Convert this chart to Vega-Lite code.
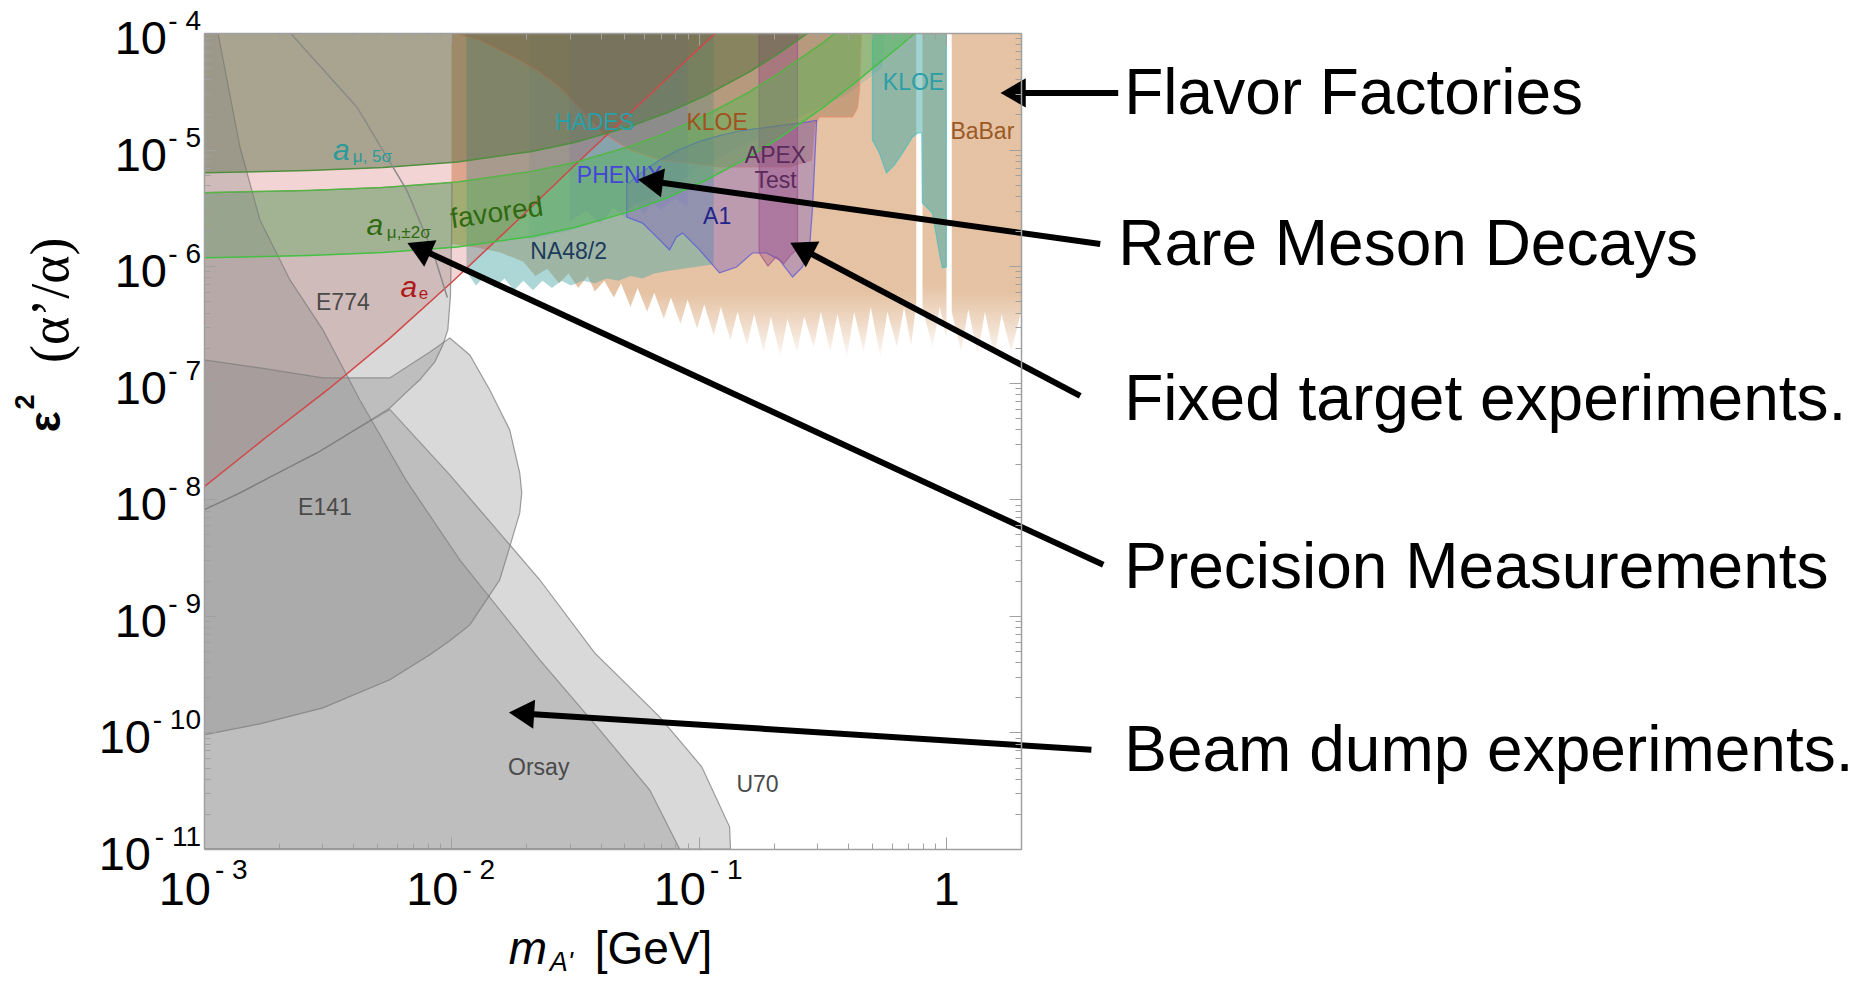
{
"$schema":"https://vega.github.io/schema/vega-lite/v6.json",
"width":817,"height":816,
"autosize":{"type":"none"},
"padding":{"left":204,"top":33,"right":845,"bottom":132},
"background":"white",
"config":{"view":{"stroke":null},"font":"Liberation Sans","text":{"font":"Liberation Sans"}},
"resolve":{"scale":{"color":"independent","fill":"independent","stroke":"independent","fillOpacity":"independent"},"axis":{"x":"independent","y":"independent"}},
"datasets":{
"reg":[
{"r":"babar","g":"b1","m":0.01,"hi":1e-4,"lo":1.552e-6},{"r":"babar","g":"b1","m":0.01254,"hi":1e-4,"lo":1.445e-6},{"r":"babar","g":"b1","m":0.01565,"hi":1e-4,"lo":1.315e-6},{"r":"babar","g":"b1","m":0.01953,"hi":1e-4,"lo":1.09e-6},{"r":"babar","g":"b1","m":0.02182,"hi":1e-4,"lo":8.23e-7},{"r":"babar","g":"b1","m":0.02436,"hi":1e-4,"lo":9.48e-7},{"r":"babar","g":"b1","m":0.02722,"hi":1e-4,"lo":7.14e-7},{"r":"babar","g":"b1","m":0.02973,"hi":1e-4,"lo":8.63e-7},{"r":"babar","g":"b1","m":0.03249,"hi":1e-4,"lo":6.5e-7},{"r":"babar","g":"b1","m":0.0355,"hi":1e-4,"lo":8.23e-7},{"r":"babar","g":"b1","m":0.03794,"hi":1e-4,"lo":6.06e-7},{"r":"babar","g":"b1","m":0.04145,"hi":1e-4,"lo":7.49e-7},{"r":"babar","g":"b1","m":0.04529,"hi":1e-4,"lo":5.39e-7},{"r":"babar","g":"b1","m":0.04838,"hi":1e-4,"lo":7.14e-7},{"r":"babar","g":"b1","m":0.05286,"hi":1e-4,"lo":4.47e-7},{"r":"babar","g":"b1","m":0.05649,"hi":1e-4,"lo":6.5e-7},{"r":"babar","g":"b1","m":0.06172,"hi":1e-4,"lo":4.07e-7},{"r":"babar","g":"b1","m":0.06596,"hi":1e-4,"lo":5.92e-7},{"r":"babar","g":"b1","m":0.07207,"hi":1e-4,"lo":3.53e-7},{"r":"babar","g":"b1","m":0.07701,"hi":1e-4,"lo":5.39e-7},{"r":"babar","g":"b1","m":0.08416,"hi":1e-4,"lo":3.21e-7},{"r":"babar","g":"b1","m":0.08993,"hi":1e-4,"lo":5.14e-7},{"r":"babar","g":"b1","m":0.09826,"hi":1e-4,"lo":2.92e-7},{"r":"babar","g":"b1","m":0.105,"hi":1e-4,"lo":4.68e-7},{"r":"babar","g":"b1","m":0.1147,"hi":1e-4,"lo":2.54e-7},{"r":"babar","g":"b1","m":0.1226,"hi":1e-4,"lo":4.47e-7},{"r":"babar","g":"b1","m":0.1339,"hi":1e-4,"lo":2.31e-7},{"r":"babar","g":"b1","m":0.1431,"hi":1e-4,"lo":4.07e-7},{"r":"babar","g":"b1","m":0.1563,"hi":1e-4,"lo":2.1e-7},{"r":"babar","g":"b1","m":0.1671,"hi":1e-4,"lo":3.88e-7},{"r":"babar","g":"b1","m":0.1826,"hi":1e-4,"lo":1.83e-7},{"r":"babar","g":"b1","m":0.1951,"hi":1e-4,"lo":3.7e-7},{"r":"babar","g":"b1","m":0.2132,"hi":1e-4,"lo":1.66e-7},{"r":"babar","g":"b1","m":0.2278,"hi":1e-4,"lo":3.53e-7},{"r":"babar","g":"b1","m":0.2489,"hi":1e-4,"lo":1.83e-7},{"r":"babar","g":"b1","m":0.266,"hi":1e-4,"lo":3.7e-7},{"r":"babar","g":"b1","m":0.2906,"hi":1e-4,"lo":2.01e-7},{"r":"babar","g":"b1","m":0.3106,"hi":1e-4,"lo":4.07e-7},{"r":"babar","g":"b1","m":0.3393,"hi":1e-4,"lo":1.83e-7},{"r":"babar","g":"b1","m":0.3626,"hi":1e-4,"lo":3.88e-7},{"r":"babar","g":"b1","m":0.3962,"hi":1e-4,"lo":1.66e-7},{"r":"babar","g":"b1","m":0.4234,"hi":1e-4,"lo":4.07e-7},{"r":"babar","g":"b1","m":0.4625,"hi":1e-4,"lo":1.83e-7},{"r":"babar","g":"b1","m":0.4943,"hi":1e-4,"lo":4.47e-7},{"r":"babar","g":"b1","m":0.5401,"hi":1e-4,"lo":1.66e-7},{"r":"babar","g":"b1","m":0.5771,"hi":1e-4,"lo":4.07e-7},{"r":"babar","g":"b1","m":0.6306,"hi":1e-4,"lo":2.01e-7},{"r":"babar","g":"b1","m":0.6739,"hi":1e-4,"lo":4.47e-7},{"r":"babar","g":"b1","m":0.7201,"hi":1e-4,"lo":2.1e-7},{"r":"babar","g":"b1","m":0.755,"hi":1e-4,"lo":4.8e-7},
{"r":"babar","g":"b2","m":0.8,"hi":1e-4,"lo":4.26e-7},{"r":"babar","g":"b2","m":0.8786,"hi":1e-4,"lo":2.01e-7},{"r":"babar","g":"b2","m":0.9389,"hi":1e-4,"lo":4.47e-7},{"r":"babar","g":"b2","m":1.0,"hi":1e-4,"lo":2.37e-7},
{"r":"babar","g":"b3","m":1.05,"hi":1e-4,"lo":4.07e-7},{"r":"babar","g":"b3","m":1.146,"hi":1e-4,"lo":1.83e-7},{"r":"babar","g":"b3","m":1.225,"hi":1e-4,"lo":4.26e-7},{"r":"babar","g":"b3","m":1.338,"hi":1e-4,"lo":1.74e-7},{"r":"babar","g":"b3","m":1.43,"hi":1e-4,"lo":4.07e-7},{"r":"babar","g":"b3","m":1.562,"hi":1e-4,"lo":1.66e-7},{"r":"babar","g":"b3","m":1.67,"hi":1e-4,"lo":3.88e-7},{"r":"babar","g":"b3","m":1.824,"hi":1e-4,"lo":1.83e-7},{"r":"babar","g":"b3","m":2.0,"hi":1e-4,"lo":4.07e-7},
{"r":"na48","m":0.01149,"hi":1e-4,"lo":9.04e-7},{"r":"na48","m":0.01254,"hi":1e-4,"lo":6.82e-7},{"r":"na48","m":0.0137,"hi":1e-4,"lo":8.23e-7},{"r":"na48","m":0.01497,"hi":1e-4,"lo":6.5e-7},{"r":"na48","m":0.01636,"hi":1e-4,"lo":7.85e-7},{"r":"na48","m":0.01788,"hi":1e-4,"lo":6.21e-7},{"r":"na48","m":0.01953,"hi":1e-4,"lo":7.49e-7},{"r":"na48","m":0.02134,"hi":1e-4,"lo":6.21e-7},{"r":"na48","m":0.02331,"hi":1e-4,"lo":7.49e-7},{"r":"na48","m":0.02547,"hi":1e-4,"lo":6.5e-7},{"r":"na48","m":0.02783,"hi":1e-4,"lo":7.49e-7},{"r":"na48","m":0.0304,"hi":1e-4,"lo":6.82e-7},{"r":"na48","m":0.03396,"hi":1e-4,"lo":7.49e-7},{"r":"na48","m":0.03794,"hi":1e-4,"lo":7.14e-7},{"r":"na48","m":0.04237,"hi":1e-4,"lo":7.85e-7},{"r":"na48","m":0.04733,"hi":1e-4,"lo":7.49e-7},{"r":"na48","m":0.05286,"hi":1e-4,"lo":8.23e-7},{"r":"na48","m":0.05904,"hi":1e-4,"lo":7.85e-7},{"r":"na48","m":0.06596,"hi":1e-4,"lo":8.63e-7},{"r":"na48","m":0.07368,"hi":1e-4,"lo":9.04e-7},{"r":"na48","m":0.1147,"hi":1e-4,"lo":1.04e-6},
{"r":"hades","m":0.0206,"hi":1e-4,"lo":1.7e-6},{"r":"hades","m":0.03,"hi":1e-4,"lo":2.0e-6},{"r":"hades","m":0.05,"hi":1e-4,"lo":3.0e-6},{"r":"hades","m":0.08,"hi":1e-4,"lo":5.0e-6},{"r":"hades","m":0.1,"hi":1e-4,"lo":7.0e-6},{"r":"hades","m":0.2,"hi":1e-4,"lo":1.5e-5},{"r":"hades","m":0.4,"hi":1e-4,"lo":3.0e-5},{"r":"hades","m":0.55,"hi":1e-4,"lo":5.0e-5},{"r":"hades","m":0.56,"hi":1e-4,"lo":9.9e-5},
{"r":"kloe1","m":0.01051,"hi":1e-4,"lo":9.9e-5},{"r":"kloe1","m":0.01301,"hi":1e-4,"lo":8.71e-5},{"r":"kloe1","m":0.01567,"hi":1e-4,"lo":7.15e-5},{"r":"kloe1","m":0.01887,"hi":1e-4,"lo":5.86e-5},{"r":"kloe1","m":0.02273,"hi":1e-4,"lo":4.63e-5},{"r":"kloe1","m":0.02736,"hi":1e-4,"lo":3.44e-5},{"r":"kloe1","m":0.03296,"hi":1e-4,"lo":2.28e-5},{"r":"kloe1","m":0.04083,"hi":1e-4,"lo":1.39e-5},{"r":"kloe1","m":0.05246,"hi":1e-4,"lo":9.93e-6},{"r":"kloe1","m":0.06934,"hi":1e-4,"lo":8.15e-6},{"r":"kloe1","m":0.1211,"hi":1e-4,"lo":7.1e-6},{"r":"kloe1","m":0.1646,"hi":1e-4,"lo":7.1e-6},{"r":"kloe1","m":0.2322,"hi":1e-4,"lo":7.1e-6},{"r":"kloe1","m":0.2849,"hi":1e-4,"lo":8.15e-6},{"r":"kloe1","m":0.2929,"hi":1e-4,"lo":1.626e-5},{"r":"kloe1","m":0.3068,"hi":1e-4,"lo":1.905e-5},{"r":"kloe1","m":0.4171,"hi":1e-4,"lo":1.905e-5},{"r":"kloe1","m":0.4368,"hi":1e-4,"lo":2.28e-5},{"r":"kloe1","m":0.4448,"hi":1e-4,"lo":3.24e-5},{"r":"kloe1","m":0.4533,"hi":1e-4,"lo":9.9e-5},
{"r":"kloe2","m":0.5022,"hi":1e-4,"lo":1.208e-5},{"r":"kloe2","m":0.536,"hi":1e-4,"lo":9.35e-6},{"r":"kloe2","m":0.5719,"hi":1e-4,"lo":6.3e-6},{"r":"kloe2","m":0.6163,"hi":1e-4,"lo":7.38e-6},{"r":"kloe2","m":0.6642,"hi":1e-4,"lo":9.35e-6},{"r":"kloe2","m":0.729,"hi":1e-4,"lo":1.282e-5},{"r":"kloe2","m":0.7636,"hi":1e-4,"lo":1.387e-5},{"r":"kloe2","m":0.795,"hi":1e-4,"lo":1.387e-5},{"r":"kloe2","m":0.7992,"hi":1e-4,"lo":3.48e-6},{"r":"kloe2","m":0.8773,"hi":1e-4,"lo":2.86e-6},{"r":"kloe2","m":0.9361,"hi":1e-4,"lo":1.297e-6},{"r":"kloe2","m":0.9625,"hi":1e-4,"lo":9.66e-7},{"r":"kloe2","m":0.999,"hi":1e-4,"lo":9.84e-7},
{"r":"phenix","m":0.03,"hi":1e-4,"lo":2.4e-6},{"r":"phenix","m":0.035,"hi":1e-4,"lo":3.0e-6},{"r":"phenix","m":0.04,"hi":1e-4,"lo":2.3e-6},{"r":"phenix","m":0.045,"hi":1e-4,"lo":3.2e-6},{"r":"phenix","m":0.05,"hi":1e-4,"lo":2.6e-6},{"r":"phenix","m":0.055,"hi":1e-4,"lo":3.5e-6},{"r":"phenix","m":0.06,"hi":1e-4,"lo":2.8e-6},{"r":"phenix","m":0.065,"hi":1e-4,"lo":3.6e-6},{"r":"phenix","m":0.07,"hi":1e-4,"lo":3.0e-6},{"r":"phenix","m":0.08,"hi":1e-4,"lo":3.8e-6},{"r":"phenix","m":0.09,"hi":1e-4,"lo":3.2e-6},
{"r":"a1","m":0.05105,"hi":5.01e-6,"lo":2.64e-6},{"r":"a1","m":0.05916,"hi":6.46e-6,"lo":2.34e-6},{"r":"a1","m":0.06934,"hi":8.13e-6,"lo":1.679e-6},{"r":"a1","m":0.07603,"hi":9.02e-6,"lo":1.377e-6},{"r":"a1","m":0.0811,"hi":9.77e-6,"lo":1.778e-6},{"r":"a1","m":0.0859,"hi":1.023e-5,"lo":1.928e-6},{"r":"a1","m":0.1005,"hi":1.175e-5,"lo":1.377e-6},{"r":"a1","m":0.1211,"hi":1.318e-5,"lo":8.75e-7},{"r":"a1","m":0.1419,"hi":1.429e-5,"lo":9.84e-7},{"r":"a1","m":0.1644,"hi":1.496e-5,"lo":1.297e-6},{"r":"a1","m":0.1875,"hi":1.549e-5,"lo":1.297e-6},{"r":"a1","m":0.2113,"hi":1.603e-5,"lo":1.13e-6},{"r":"a1","m":0.2388,"hi":1.66e-5,"lo":8.07e-7},{"r":"a1","m":0.2618,"hi":1.698e-5,"lo":9.84e-7},{"r":"a1","m":0.2799,"hi":1.738e-5,"lo":1.462e-6},{"r":"a1","m":0.2877,"hi":1.758e-5,"lo":3.22e-6},{"r":"a1","m":0.2985,"hi":1.778e-5,"lo":1.7e-5},
{"r":"apex","m":0.175,"hi":1e-4,"lo":1.3e-6},{"r":"apex","m":0.19,"hi":1e-4,"lo":1.0e-6},{"r":"apex","m":0.205,"hi":1e-4,"lo":1.2e-6},{"r":"apex","m":0.22,"hi":1e-4,"lo":1.05e-6},{"r":"apex","m":0.235,"hi":1e-4,"lo":1.25e-6},{"r":"apex","m":0.25,"hi":1e-4,"lo":1.4e-6},
{"r":"ae","m":0.001,"hi":1e-4,"lo":1.276e-8},{"r":"ae","m":0.001778,"hi":1e-4,"lo":3.39e-8},{"r":"ae","m":0.003162,"hi":1e-4,"lo":8.71e-8},{"r":"ae","m":0.005623,"hi":1e-4,"lo":2.4e-7},{"r":"ae","m":0.01,"hi":1e-4,"lo":7.24e-7},{"r":"ae","m":0.01778,"hi":1e-4,"lo":2.29e-6},{"r":"ae","m":0.03162,"hi":1e-4,"lo":7.41e-6},{"r":"ae","m":0.05623,"hi":1e-4,"lo":2.34e-5},{"r":"ae","m":0.1167,"hi":1e-4,"lo":1e-4},
{"r":"amu5","m":0.001,"hi":1e-4,"lo":6.32e-6},{"r":"amu5","m":0.00264,"hi":1e-4,"lo":6.61e-6},{"r":"amu5","m":0.00529,"hi":1e-4,"lo":7.01e-6},{"r":"amu5","m":0.01057,"hi":1e-4,"lo":7.83e-6},{"r":"amu5","m":0.0211,"hi":1e-4,"lo":9.64e-6},{"r":"amu5","m":0.0317,"hi":1e-4,"lo":1.156e-5},{"r":"amu5","m":0.0529,"hi":1e-4,"lo":1.581e-5},{"r":"amu5","m":0.074,"hi":1e-4,"lo":2.06e-5},{"r":"amu5","m":0.1057,"hi":1e-4,"lo":2.89e-5},{"r":"amu5","m":0.1586,"hi":1e-4,"lo":4.59e-5},{"r":"amu5","m":0.211,"hi":1e-4,"lo":6.71e-5},{"r":"amu5","m":0.276,"hi":1e-4,"lo":1e-4},
{"r":"amu2","m":0.001,"hi":4.27e-6,"lo":1.18e-6},{"r":"amu2","m":0.00264,"hi":4.46e-6,"lo":1.233e-6},{"r":"amu2","m":0.00529,"hi":4.73e-6,"lo":1.309e-6},{"r":"amu2","m":0.01057,"hi":5.28e-6,"lo":1.462e-6},{"r":"amu2","m":0.0211,"hi":6.5e-6,"lo":1.799e-6},{"r":"amu2","m":0.0317,"hi":7.8e-6,"lo":2.158e-6},{"r":"amu2","m":0.0529,"hi":1.067e-5,"lo":2.951e-6},{"r":"amu2","m":0.074,"hi":1.39e-5,"lo":3.846e-6},{"r":"amu2","m":0.1057,"hi":1.95e-5,"lo":5.4e-6},{"r":"amu2","m":0.1586,"hi":3.1e-5,"lo":8.57e-6},{"r":"amu2","m":0.211,"hi":4.53e-5,"lo":1.253e-5},{"r":"amu2","m":0.317,"hi":8.28e-5,"lo":2.291e-5},{"r":"amu2","m":0.356,"hi":1e-4,"lo":2.77e-5},{"r":"amu2","m":0.423,"hi":1e-4,"lo":3.68e-5},{"r":"amu2","m":0.634,"hi":1e-4,"lo":7.43e-5},{"r":"amu2","m":0.748,"hi":1e-4,"lo":1e-4},
{"r":"orsay","m":0.001,"hi":1e-4,"lo":1e-11},{"r":"orsay","m":0.001139,"hi":1e-4,"lo":1e-11},{"r":"orsay","m":0.001397,"hi":1.052e-5,"lo":1e-11},{"r":"orsay","m":0.001683,"hi":2.49e-6,"lo":1e-11},{"r":"orsay","m":0.002225,"hi":7.62e-7,"lo":1e-11},{"r":"orsay","m":0.003023,"hi":2.84e-7,"lo":1e-11},{"r":"orsay","m":0.004263,"hi":7.11e-8,"lo":1e-11},{"r":"orsay","m":0.006538,"hi":1.466e-8,"lo":1e-11},{"r":"orsay","m":0.0108,"hi":3.02e-9,"lo":1e-11},{"r":"orsay","m":0.02273,"hi":4.2e-10,"lo":1e-11},{"r":"orsay","m":0.03969,"hi":1.05e-10,"lo":1e-11},{"r":"orsay","m":0.06318,"hi":3.22e-11,"lo":1e-11},{"r":"orsay","m":0.0835,"hi":1e-11,"lo":1e-11},
{"r":"u70","m":0.001,"hi":8.11e-9,"lo":1e-11},{"r":"u70","m":0.001397,"hi":1.135e-8,"lo":1e-11},{"r":"u70","m":0.002225,"hi":1.9e-8,"lo":1e-11},{"r":"u70","m":0.002859,"hi":2.5e-8,"lo":1e-11},{"r":"u70","m":0.003885,"hi":3.71e-8,"lo":1e-11},{"r":"u70","m":0.005634,"hi":5.9e-8,"lo":1e-11},{"r":"u70","m":0.009844,"hi":1.618e-8,"lo":1e-11},{"r":"u70","m":0.02273,"hi":2.04e-9,"lo":1e-11},{"r":"u70","m":0.03788,"hi":4.82e-10,"lo":1e-11},{"r":"u70","m":0.06934,"hi":1.361e-10,"lo":1e-11},{"r":"u70","m":0.1026,"hi":5.07e-11,"lo":1e-11},{"r":"u70","m":0.1329,"hi":1.55e-11,"lo":1e-11},{"r":"u70","m":0.1341,"hi":1e-11,"lo":1e-11},
{"r":"e141","m":0.001,"hi":1.57e-7,"lo":9.53e-11},{"r":"e141","m":0.001683,"hi":1.34e-7,"lo":1.186e-10},{"r":"e141","m":0.003023,"hi":1.099e-7,"lo":1.626e-10},{"r":"e141","m":0.005634,"hi":1.099e-7,"lo":2.83e-10},{"r":"e141","m":0.008178,"hi":1.837e-7,"lo":4.63e-10},{"r":"e141","m":0.009844,"hi":2.42e-7,"lo":6.11e-10},{"r":"e141","m":0.01186,"hi":1.73e-7,"lo":8.37e-10},{"r":"e141","m":0.01428,"hi":8.67e-8,"lo":1.514e-9},{"r":"e141","m":0.01567,"hi":5.84e-8,"lo":2.04e-9},{"r":"e141","m":0.01719,"hi":3.94e-8,"lo":3.91e-9},{"r":"e141","m":0.01887,"hi":1.68e-8,"lo":7.64e-9},{"r":"e141","m":0.01922,"hi":1.135e-8,"lo":1.135e-8},
{"r":"e774","m":0.001,"hi":4.27e-6,"lo":8.11e-9},{"r":"e774","m":0.001397,"hi":4.32e-6,"lo":1.135e-8},{"r":"e774","m":0.002225,"hi":4.41e-6,"lo":1.9e-8},{"r":"e774","m":0.002859,"hi":4.48e-6,"lo":2.5e-8},{"r":"e774","m":0.003885,"hi":4.6e-6,"lo":3.71e-8},{"r":"e774","m":0.005634,"hi":4.77e-6,"lo":6.08e-8},{"r":"e774","m":0.006598,"hi":4.88e-6,"lo":8.34e-8},{"r":"e774","m":0.007447,"hi":4.98e-6,"lo":1.06e-7},{"r":"e774","m":0.008562,"hi":5.08e-6,"lo":1.51e-7},{"r":"e774","m":0.009224,"hi":5.14e-6,"lo":2.11e-7},{"r":"e774","m":0.009663,"hi":5.19e-6,"lo":2.84e-7},{"r":"e774","m":0.0099,"hi":5.21e-6,"lo":5.5e-7},{"r":"e774","m":0.01,"hi":5.22e-6,"lo":1.6e-6},{"r":"e774","m":0.01005,"hi":5.22e-6,"lo":5.22e-6}
],
"crv":[
{"c":"ae","m":0.001,"e":1.276e-8},{"c":"ae","m":0.001778,"e":3.39e-8},{"c":"ae","m":0.003162,"e":8.71e-8},{"c":"ae","m":0.005623,"e":2.4e-7},{"c":"ae","m":0.01,"e":7.24e-7},{"c":"ae","m":0.01778,"e":2.29e-6},{"c":"ae","m":0.03162,"e":7.41e-6},{"c":"ae","m":0.05623,"e":2.34e-5},{"c":"ae","m":0.1167,"e":1e-4},
{"c":"m5","m":0.001,"e":6.32e-6},{"c":"m5","m":0.00264,"e":6.61e-6},{"c":"m5","m":0.00529,"e":7.01e-6},{"c":"m5","m":0.01057,"e":7.83e-6},{"c":"m5","m":0.0211,"e":9.64e-6},{"c":"m5","m":0.0317,"e":1.156e-5},{"c":"m5","m":0.0529,"e":1.581e-5},{"c":"m5","m":0.074,"e":2.06e-5},{"c":"m5","m":0.1057,"e":2.89e-5},{"c":"m5","m":0.1586,"e":4.59e-5},{"c":"m5","m":0.211,"e":6.71e-5},{"c":"m5","m":0.276,"e":1e-4},
{"c":"m2u","m":0.001,"e":4.27e-6},{"c":"m2u","m":0.00264,"e":4.46e-6},{"c":"m2u","m":0.00529,"e":4.73e-6},{"c":"m2u","m":0.01057,"e":5.28e-6},{"c":"m2u","m":0.0211,"e":6.5e-6},{"c":"m2u","m":0.0317,"e":7.8e-6},{"c":"m2u","m":0.0529,"e":1.067e-5},{"c":"m2u","m":0.074,"e":1.39e-5},{"c":"m2u","m":0.1057,"e":1.95e-5},{"c":"m2u","m":0.1586,"e":3.1e-5},{"c":"m2u","m":0.211,"e":4.53e-5},{"c":"m2u","m":0.317,"e":8.28e-5},{"c":"m2u","m":0.356,"e":1e-4},
{"c":"m2l","m":0.001,"e":1.18e-6},{"c":"m2l","m":0.00264,"e":1.233e-6},{"c":"m2l","m":0.00529,"e":1.309e-6},{"c":"m2l","m":0.01057,"e":1.462e-6},{"c":"m2l","m":0.0211,"e":1.799e-6},{"c":"m2l","m":0.0317,"e":2.158e-6},{"c":"m2l","m":0.0529,"e":2.951e-6},{"c":"m2l","m":0.074,"e":3.846e-6},{"c":"m2l","m":0.1057,"e":5.4e-6},{"c":"m2l","m":0.1586,"e":8.57e-6},{"c":"m2l","m":0.211,"e":1.253e-5},{"c":"m2l","m":0.317,"e":2.291e-5},{"c":"m2l","m":0.423,"e":3.68e-5},{"c":"m2l","m":0.634,"e":7.43e-5},{"c":"m2l","m":0.748,"e":1e-4},
{"c":"gl","m":0.002233,"e":1e-4},{"c":"gl","m":0.00415,"e":2.31e-5},{"c":"gl","m":0.006602,"e":4.47e-6},{"c":"gl","m":0.008518,"e":1.227e-6},{"c":"gl","m":0.00962,"e":5.38e-7}
],
"lbl":[
{"id":"HADES","t":"HADES","m":0.03788,"e":1.706e-5},{"id":"KLOEb","t":"KLOE","m":0.1184,"e":1.706e-5},{"id":"KLOEt","t":"KLOE","m":0.7355,"e":3.71e-5},{"id":"BaBar","t":"BaBar","m":1.396,"e":1.416e-5},{"id":"APEX","t":"APEX","m":0.2038,"e":8.81e-6},{"id":"APEX","t":"Test","m":0.2038,"e":5.38e-6},{"id":"PHENIX","t":"PHENIX","m":0.04779,"e":5.94e-6},{"id":"A1","t":"A1","m":0.1184,"e":2.66e-6},{"id":"NA48","t":"NA48/2","m":0.02975,"e":1.324e-6},{"id":"E","t":"E774","m":0.00364,"e":4.79e-7},{"id":"E","t":"E141","m":0.00308,"e":8.43e-9},{"id":"E","t":"Orsay","m":0.02251,"e":4.97e-11},{"id":"E","t":"U70","m":0.1724,"e":3.51e-11}
],
"asym":[{"id":"a5","m":0.00359,"e":9.73e-6},{"id":"a2","m":0.004901,"e":2.213e-6},{"id":"ae","m":0.006724,"e":6.5e-7}],
"asub":[{"id":"a5","t":"μ, 5σ","m":0.003995,"e":8.64e-6},{"id":"a2","t":"μ,±2σ","m":0.00548,"e":1.928e-6},{"id":"ae","t":"e","m":0.007379,"e":5.78e-7}],
"fav":[{"t":"favored","m":0.01524,"e":2.81e-6}],
"ann":[{"t":"Flavor Factories","m":5.226,"e":2.94e-5},{"t":"Rare Meson Decays","m":4.943,"e":1.49e-6},{"t":"Fixed target experiments.","m":5.226,"e":6.98e-8},{"t":"Precision Measurements","m":5.226,"e":2.53e-9},{"t":"Beam dump experiments.","m":5.226,"e":6.82e-11}],
"arr":[{"m1":4.94,"e1":3.06e-5,"m2":1.933,"e2":3.06e-5},{"m1":4.18,"e1":1.55e-6,"m2":0.06617,"e2":5.3e-6},{"m1":3.47,"e1":7.7e-8,"m2":0.2685,"e2":1.361e-6},{"m1":4.3,"e1":2.74e-9,"m2":0.00765,"e2":1.377e-6},{"m1":3.85,"e1":7.1e-11,"m2":0.01995,"e2":1.449e-10}],
"ytk":[{"v":1e-4,"x":"- 4"},{"v":1e-5,"x":"- 5"},{"v":1e-6,"x":"- 6"},{"v":1e-7,"x":"- 7"},{"v":1e-8,"x":"- 8"},{"v":1e-9,"x":"- 9"},{"v":1e-10,"x":"- 10"},{"v":1e-11,"x":"- 11"}],
"xtk":[{"v":0.001,"x":"- 3"},{"v":0.01,"x":"- 2"},{"v":0.1,"x":"- 1"}],
"ttl":[{"k":"m","t":"m","m":0.01703,"e":1.035e-12},{"k":"A","t":"A'","m":0.02495,"e":9.02e-13},{"k":"G","t":"[GeV]","m":0.0379,"e":1.035e-12},{"k":"eps","t":"ε","m":2.32e-4,"e":4.61e-8},{"k":"two","t":"2","m":1.912e-4,"e":6.84e-8},{"k":"alp","t":"(α’/α)","m":2.434e-4,"e":5.1e-7}]
},
"layer":[
{"data":{"name":"reg"},
 "transform":[{"filter":"datum.r == 'babar'"}],
 "mark":{"type":"area","clip":true,"color":{"gradient":"linear","x1":0,"y1":0,"x2":0,"y2":1,"stops":[{"offset":0,"color":"rgba(212,154,102,0.6)"},{"offset":0.8,"color":"rgba(212,154,102,0.6)"},{"offset":0.9,"color":"rgba(212,154,102,0.35)"},{"offset":1,"color":"rgba(212,154,102,0.06)"}]}},
 "encoding":{
  "x":{"field":"m","type":"quantitative","scale":{"type":"log","domain":[0.001,2],"nice":false},"axis":null},
  "y":{"field":"hi","type":"quantitative","stack":null,"scale":{"type":"log","domain":[1e-11,1e-4],"nice":false},"axis":null},
  "y2":{"field":"lo"},
  "detail":{"field":"g"}
 }},
{"data":{"name":"reg"},
 "transform":[{"filter":"datum.r != 'babar'"}],
 "mark":{"type":"area","clip":true,"strokeWidth":1.2,"strokeOpacity":0.7},
 "encoding":{
  "x":{"field":"m","type":"quantitative","scale":{"type":"log"},
   "axis":{"orient":"bottom","values":[0.001,0.002,0.003,0.004,0.005,0.006,0.007,0.008,0.009,0.01,0.02,0.03,0.04,0.05,0.06,0.07,0.08,0.09,0.1,0.2,0.3,0.4,0.5,0.6,0.7,0.8,0.9,1,2],"labels":false,"title":null,"grid":false,"domainColor":"#a0a0a0","domainWidth":1.5,"tickColor":"#a0a0a0","tickSize":{"condition":{"test":"abs(log(datum.value)/LN10-round(log(datum.value)/LN10))<0.001","value":-12},"value":-6},"zindex":1}},
  "y":{"field":"hi","type":"quantitative","stack":null,"scale":{"type":"log"},
   "axis":{"orient":"left","values":[1e-11,2e-11,3e-11,4e-11,5e-11,6e-11,7e-11,8e-11,9e-11,1e-10,2e-10,3e-10,4e-10,5e-10,6e-10,7e-10,8e-10,9e-10,1e-9,2e-9,3e-9,4e-9,5e-9,6e-9,7e-9,8e-9,9e-9,1e-8,2e-8,3e-8,4e-8,5e-8,6e-8,7e-8,8e-8,9e-8,1e-7,2e-7,3e-7,4e-7,5e-7,6e-7,7e-7,8e-7,9e-7,1e-6,2e-6,3e-6,4e-6,5e-6,6e-6,7e-6,8e-6,9e-6,1e-5,2e-5,3e-5,4e-5,5e-5,6e-5,7e-5,8e-5,9e-5,1e-4],"labels":false,"title":null,"grid":false,"domainColor":"#a0a0a0","domainWidth":1.5,"tickColor":"#a0a0a0","tickSize":{"condition":{"test":"abs(log(datum.value)/LN10-round(log(datum.value)/LN10))<0.001","value":-12},"value":-6},"zindex":1}},
  "y2":{"field":"lo"},
  "detail":{"field":"g"},
  "fill":{"field":"r","type":"nominal","legend":null,"scale":{"domain":["na48","hades","kloe1","kloe2","phenix","a1","apex","ae","amu5","amu2","orsay","u70","e141","e774"],"range":["#4aa6a6","#5a9aaa","#a07450","#40aaa8","#5060d0","#8060c0","#903880","#c83c3c","#4f6b3c","#4cb84c","#808080","#808080","#808080","#808080"]}},
  "fillOpacity":{"field":"r","type":"ordinal","legend":null,"scale":{"type":"ordinal","domain":["na48","hades","kloe1","kloe2","phenix","a1","apex","ae","amu5","amu2","orsay","u70","e141","e774"],"range":[0.45,0.2,0.45,0.5,0.15,0.4,0.35,0.22,0.45,0.4,0.3,0.3,0.3,0.3]}},
  "stroke":{"field":"r","type":"nominal","legend":null,"scale":{"domain":["na48","hades","kloe1","kloe2","phenix","a1","apex","ae","amu5","amu2","orsay","u70","e141","e774"],"range":["transparent","transparent","#e88a6a","#40c0c0","transparent","#5050e0","#a05090","transparent","transparent","transparent","#777777","#777777","#777777","#777777"]}}
 }},
{"data":{"name":"crv"},
 "mark":{"type":"line","clip":true,"strokeWidth":1.5},
 "encoding":{
  "x":{"field":"m","type":"quantitative","scale":{"type":"log"},
   "axis":{"orient":"top","values":[0.001,0.002,0.003,0.004,0.005,0.006,0.007,0.008,0.009,0.01,0.02,0.03,0.04,0.05,0.06,0.07,0.08,0.09,0.1,0.2,0.3,0.4,0.5,0.6,0.7,0.8,0.9,1,2],"labels":false,"title":null,"grid":false,"domainColor":"#a0a0a0","domainWidth":1.5,"tickColor":"#a0a0a0","tickSize":{"condition":{"test":"abs(log(datum.value)/LN10-round(log(datum.value)/LN10))<0.001","value":-12},"value":-6},"zindex":1}},
  "y":{"field":"e","type":"quantitative","scale":{"type":"log"},
   "axis":{"orient":"right","values":[1e-11,2e-11,3e-11,4e-11,5e-11,6e-11,7e-11,8e-11,9e-11,1e-10,2e-10,3e-10,4e-10,5e-10,6e-10,7e-10,8e-10,9e-10,1e-9,2e-9,3e-9,4e-9,5e-9,6e-9,7e-9,8e-9,9e-9,1e-8,2e-8,3e-8,4e-8,5e-8,6e-8,7e-8,8e-8,9e-8,1e-7,2e-7,3e-7,4e-7,5e-7,6e-7,7e-7,8e-7,9e-7,1e-6,2e-6,3e-6,4e-6,5e-6,6e-6,7e-6,8e-6,9e-6,1e-5,2e-5,3e-5,4e-5,5e-5,6e-5,7e-5,8e-5,9e-5,1e-4],"labels":false,"title":null,"grid":false,"domainColor":"#a0a0a0","domainWidth":1.5,"tickColor":"#a0a0a0","tickSize":{"condition":{"test":"abs(log(datum.value)/LN10-round(log(datum.value)/LN10))<0.001","value":-12},"value":-6},"zindex":1}},
  "color":{"field":"c","type":"nominal","legend":null,"scale":{"domain":["ae","m5","m2u","m2l","gl"],"range":["#d04848","#4f8f3f","#55b545","#44c044","#8a8a8a"]}}
 }},
{"data":{"name":"lbl"},
 "mark":{"type":"text","fontSize":23,"align":"center","baseline":"middle"},
 "encoding":{
  "x":{"field":"m","type":"quantitative","scale":{"type":"log"},"axis":null},
  "y":{"field":"e","type":"quantitative","scale":{"type":"log"},"axis":null},
  "text":{"field":"t"},
  "color":{"field":"id","type":"nominal","legend":null,"scale":{"domain":["HADES","KLOEb","KLOEt","BaBar","APEX","PHENIX","A1","NA48","E"],"range":["#2a9fa6","#a0521e","#2a9fa6","#9a5a26","#5a2a5a","#4646d8","#23238c","#1d3b5c","#4a4a4a"]}}
 }},
{"data":{"name":"fav"},
 "mark":{"type":"text","fontSize":28,"align":"center","baseline":"middle","angle":352,"color":"#2f6a10"},
 "encoding":{
  "x":{"field":"m","type":"quantitative","scale":{"type":"log"},"axis":null},
  "y":{"field":"e","type":"quantitative","scale":{"type":"log"},"axis":null},
  "text":{"field":"t"}
 }},
{"data":{"name":"asym"},
 "mark":{"type":"text","fontSize":30,"fontStyle":"italic","align":"center","baseline":"middle","text":"a"},
 "encoding":{
  "x":{"field":"m","type":"quantitative","scale":{"type":"log"},"axis":null},
  "y":{"field":"e","type":"quantitative","scale":{"type":"log"},"axis":null},
  "color":{"field":"id","type":"nominal","legend":null,"scale":{"domain":["a5","a2","ae"],"range":["#2a9a9a","#2f6a10","#b01818"]}}
 }},
{"data":{"name":"asub"},
 "mark":{"type":"text","fontSize":17,"align":"left","baseline":"middle"},
 "encoding":{
  "x":{"field":"m","type":"quantitative","scale":{"type":"log"},"axis":null},
  "y":{"field":"e","type":"quantitative","scale":{"type":"log"},"axis":null},
  "text":{"field":"t"},
  "color":{"field":"id","type":"nominal","legend":null,"scale":{"domain":["a5","a2","ae"],"range":["#2a9a9a","#2f6a10","#b01818"]}}
 }},
{"data":{"name":"arr"},
 "mark":{"type":"rule","strokeWidth":6,"color":"black","clip":false},
 "encoding":{
  "x":{"field":"m1","type":"quantitative","scale":{"type":"log"},"axis":null},
  "y":{"field":"e1","type":"quantitative","scale":{"type":"log"},"axis":null},
  "x2":{"field":"m2"},
  "y2":{"field":"e2"}
 }},
{"data":{"name":"arr"},
 "transform":[{"calculate":"atan2((log(datum.m2)-log(datum.m1))/LN10*247.7,(log(datum.e2)-log(datum.e1))/LN10*116.6)*180/PI","as":"ang"}],
 "mark":{"type":"point","shape":"triangle","filled":true,"size":850,"color":"black","opacity":1,"clip":false},
 "encoding":{
  "x":{"field":"m2","type":"quantitative","scale":{"type":"log"},"axis":null},
  "y":{"field":"e2","type":"quantitative","scale":{"type":"log"},"axis":null},
  "angle":{"field":"ang","type":"quantitative","scale":null}
 }},
{"data":{"name":"ann"},
 "mark":{"type":"text","fontSize":64,"align":"left","baseline":"middle","color":"black"},
 "encoding":{
  "x":{"field":"m","type":"quantitative","scale":{"type":"log"},"axis":null},
  "y":{"field":"e","type":"quantitative","scale":{"type":"log"},"axis":null},
  "text":{"field":"t"}
 }},
{"data":{"name":"ytk"},
 "transform":[{"filter":"datum.v > 5e-10"}],
 "mark":{"type":"text","fontSize":47,"align":"right","baseline":"alphabetic","dx":-37,"dy":21,"text":"10","color":"black"},
 "encoding":{
  "x":{"datum":0.001,"type":"quantitative","scale":{"type":"log"},"axis":null},
  "y":{"field":"v","type":"quantitative","scale":{"type":"log"},"axis":null}
 }},
{"data":{"name":"ytk"},
 "transform":[{"filter":"datum.v < 5e-10"}],
 "mark":{"type":"text","fontSize":47,"align":"right","baseline":"alphabetic","dx":-53,"dy":21,"text":"10","color":"black"},
 "encoding":{
  "x":{"datum":0.001,"type":"quantitative","scale":{"type":"log"},"axis":null},
  "y":{"field":"v","type":"quantitative","scale":{"type":"log"},"axis":null}
 }},
{"data":{"name":"ytk"},
 "mark":{"type":"text","fontSize":28,"align":"right","baseline":"alphabetic","dx":-3,"dy":-3,"color":"black"},
 "encoding":{
  "x":{"datum":0.001,"type":"quantitative","scale":{"type":"log"},"axis":null},
  "y":{"field":"v","type":"quantitative","scale":{"type":"log"},"axis":null},
  "text":{"field":"x"}
 }},
{"data":{"name":"xtk"},
 "mark":{"type":"text","fontSize":47,"align":"right","baseline":"alphabetic","dx":7,"dy":56,"text":"10","color":"black"},
 "encoding":{
  "x":{"field":"v","type":"quantitative","scale":{"type":"log"},"axis":null},
  "y":{"datum":1e-11,"type":"quantitative","scale":{"type":"log"},"axis":null}
 }},
{"data":{"name":"xtk"},
 "mark":{"type":"text","fontSize":28,"align":"left","baseline":"alphabetic","dx":11,"dy":30,"color":"black"},
 "encoding":{
  "x":{"field":"v","type":"quantitative","scale":{"type":"log"},"axis":null},
  "y":{"datum":1e-11,"type":"quantitative","scale":{"type":"log"},"axis":null},
  "text":{"field":"x"}
 }},
{"data":{"values":[{"v":1,"t":"1"}]},
 "mark":{"type":"text","fontSize":47,"align":"center","baseline":"alphabetic","dy":56,"color":"black"},
 "encoding":{
  "x":{"field":"v","type":"quantitative","scale":{"type":"log"},"axis":null},
  "y":{"datum":1e-11,"type":"quantitative","scale":{"type":"log"},"axis":null},
  "text":{"field":"t"}
 }},
{"data":{"name":"ttl"},
 "transform":[{"filter":"datum.k == 'm'"}],
 "mark":{"type":"text","fontSize":46,"fontStyle":"italic","align":"left","baseline":"alphabetic","color":"black"},
 "encoding":{
  "x":{"field":"m","type":"quantitative","scale":{"type":"log"},"axis":null},
  "y":{"field":"e","type":"quantitative","scale":{"type":"log"},"axis":null},
  "text":{"field":"t"}
 }},
{"data":{"name":"ttl"},
 "transform":[{"filter":"datum.k == 'A'"}],
 "mark":{"type":"text","fontSize":27,"fontStyle":"italic","align":"left","baseline":"alphabetic","color":"black"},
 "encoding":{
  "x":{"field":"m","type":"quantitative","scale":{"type":"log"},"axis":null},
  "y":{"field":"e","type":"quantitative","scale":{"type":"log"},"axis":null},
  "text":{"field":"t"}
 }},
{"data":{"name":"ttl"},
 "transform":[{"filter":"datum.k == 'G'"}],
 "mark":{"type":"text","fontSize":46,"align":"left","baseline":"alphabetic","color":"black"},
 "encoding":{
  "x":{"field":"m","type":"quantitative","scale":{"type":"log"},"axis":null},
  "y":{"field":"e","type":"quantitative","scale":{"type":"log"},"axis":null},
  "text":{"field":"t"}
 }},
{"data":{"name":"ttl"},
 "transform":[{"filter":"datum.k == 'eps'"}],
 "mark":{"type":"text","fontSize":44,"fontWeight":"bold","align":"center","baseline":"middle","angle":270,"color":"black"},
 "encoding":{
  "x":{"field":"m","type":"quantitative","scale":{"type":"log"},"axis":null},
  "y":{"field":"e","type":"quantitative","scale":{"type":"log"},"axis":null},
  "text":{"field":"t"}
 }},
{"data":{"name":"ttl"},
 "transform":[{"filter":"datum.k == 'two'"}],
 "mark":{"type":"text","fontSize":27,"fontWeight":"bold","align":"center","baseline":"middle","angle":270,"color":"black"},
 "encoding":{
  "x":{"field":"m","type":"quantitative","scale":{"type":"log"},"axis":null},
  "y":{"field":"e","type":"quantitative","scale":{"type":"log"},"axis":null},
  "text":{"field":"t"}
 }},
{"data":{"name":"ttl"},
 "transform":[{"filter":"datum.k == 'alp'"}],
 "mark":{"type":"text","fontSize":54,"font":"Liberation Serif","align":"center","baseline":"middle","angle":270,"color":"black"},
 "encoding":{
  "x":{"field":"m","type":"quantitative","scale":{"type":"log"},"axis":null},
  "y":{"field":"e","type":"quantitative","scale":{"type":"log"},"axis":null},
  "text":{"field":"t"}
 }}
]
}
